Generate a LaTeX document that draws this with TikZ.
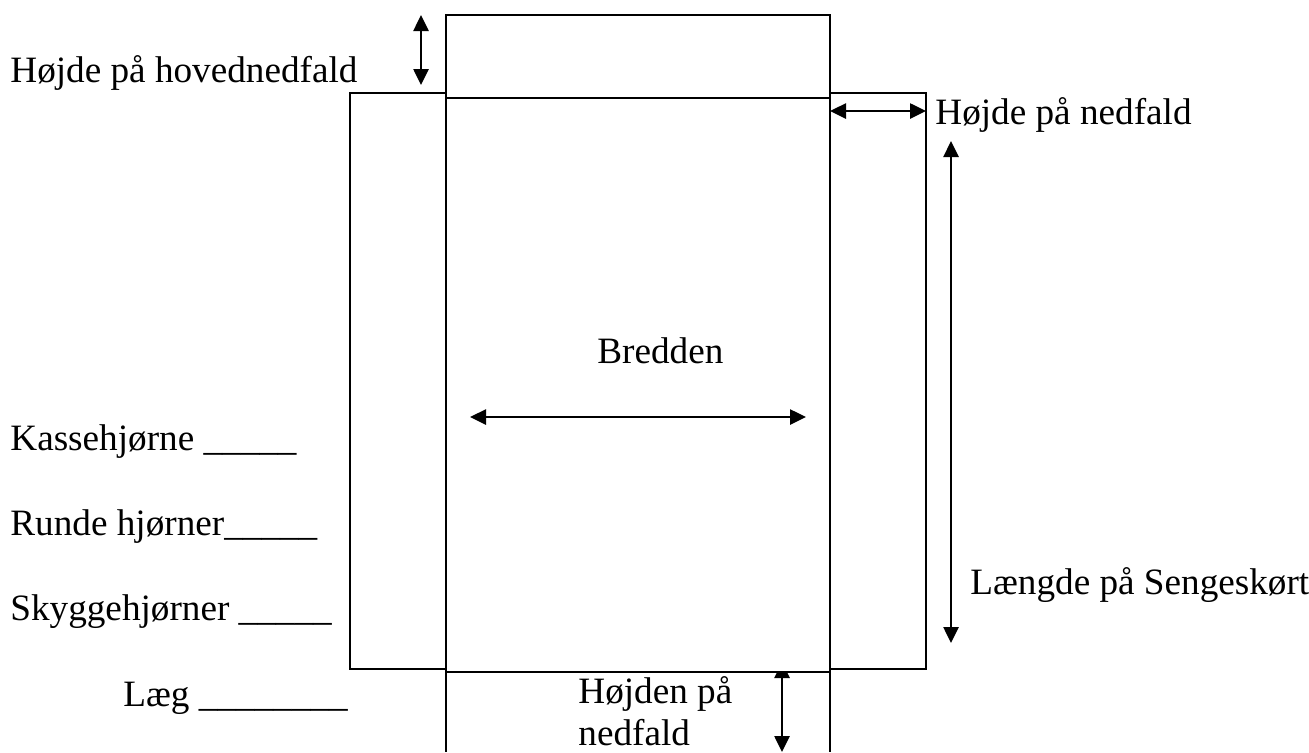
\documentclass[tikz,border=0pt]{standalone}
\usepackage{fontspec}
\setmainfont{Liberation Serif}
\usetikzlibrary{arrows.meta}

\tikzset{
  panel/.style={draw, line width=1pt},
  dimarrow/.style={{Triangle[length=8pt,width=7.5pt]}-{Triangle[length=8pt,width=7.5pt]}, line width=1.3pt},
  lbl/.style={anchor=base west, inner sep=0pt, align=left, font=\fontsize{18.6}{21}\selectfont}
}

\begin{document}
\begin{tikzpicture}[x=0.5pt, y=-0.5pt]
    \useasboundingbox (0,0) rectangle (1309,752);

    % the bed skirt pieces
    \coordinate (topA) at (446,15);
    \coordinate (midA) at (446,98);
    \coordinate (midB) at (830,672);
    \draw[panel] (topA) rectangle (830,98);
    \draw[panel] (350,93) rectangle (446,669);
    \draw[panel] (830,93) rectangle (926,669);
    \draw[panel] (446,672) -- (446,752);
    \draw[panel] (830,672) -- (830,752);

    % arrow under the bottom piece first, its head is hidden
    \coordinate (fallTop) at (782,662);
    \coordinate (fallBot) at (782,752);
    \draw[dimarrow] (fallTop) -- (fallBot);
    \draw[panel, fill=white] (midA) rectangle (midB);

    % measure arrows
    \coordinate (headTop) at (421,15);
    \coordinate (headBot) at (421,85);
    \coordinate (sideL) at (830,111);
    \coordinate (sideR) at (926,111);
    \coordinate (lenTop) at (951,141);
    \coordinate (lenBot) at (951,643);
    \coordinate (widL) at (470,417);
    \coordinate (widR) at (806,417);
    \draw[dimarrow] (headTop) -- (headBot);
    \draw[dimarrow] (sideL) -- (sideR);
    \draw[dimarrow] (lenTop) -- (lenBot);
    \draw[dimarrow] (widL) -- (widR);

    % labels
    \node[lbl] (hoved) at (10,82) {Højde på hovednedfald};
    \node[lbl] (nedfald) at (935,124) {Højde på nedfald};
    \node[lbl] (bredde) at (597,363) {Bredden};
    \node[lbl] (laengde) at (970,594) {Længde på Sengeskørt};
    \node[lbl] (kasse) at (10,450) {Kassehjørne \_\_\_\_\_};
    \node[lbl] (runde) at (10,535) {Runde hjørner\_\_\_\_\_};
    \node[lbl] (skygge) at (10,620) {Skyggehjørner \_\_\_\_\_};
    \node[lbl] (laeg) at (123,706) {Læg \_\_\_\_\_\_\_\_};
    \node[lbl] (hoejden) at (578,745) {Højden på\\nedfald};
\end{tikzpicture}
\end{document}
